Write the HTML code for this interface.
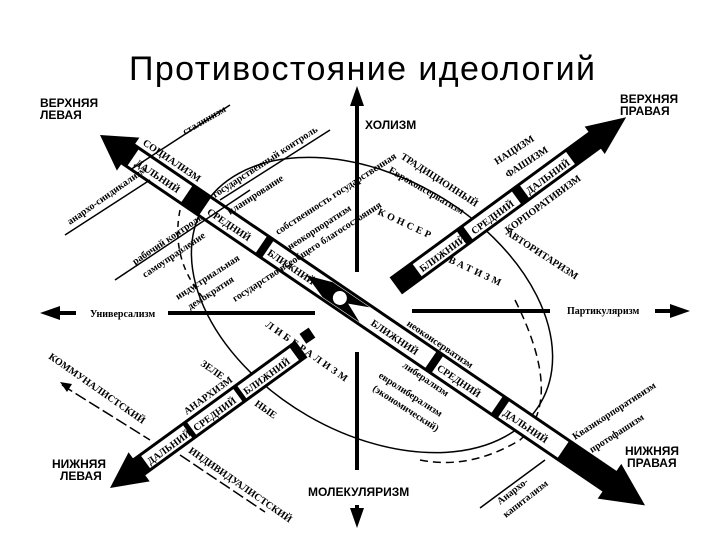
<!DOCTYPE html>
<html><head><meta charset="utf-8"><style>
html,body{margin:0;padding:0;background:#fff;}
svg{display:block;font-family:"Liberation Sans",sans-serif;}
.t{font-family:"Liberation Serif",serif;font-weight:bold;font-size:10px;fill:#000}
.b{font-family:"Liberation Sans",sans-serif;font-size:12px;fill:#000}
</style></head><body>
<svg width="720" height="540" viewBox="0 0 720 540" xmlns="http://www.w3.org/2000/svg">
<rect width="720" height="540" fill="#fff"/>
<text x="362" y="80" text-anchor="middle" font-size="34" textLength="466" font-family="Liberation Sans, sans-serif">Противостояние идеологий</text>

<!-- axes -->
<line x1="357" y1="100" x2="357" y2="272" stroke="#000" stroke-width="4"/>
<polygon points="357,86 350,106 364,106" fill="#000"/>
<line x1="357" y1="352" x2="357" y2="470" stroke="#000" stroke-width="4"/>
<line x1="357" y1="505" x2="357" y2="515" stroke="#000" stroke-width="4"/>
<polygon points="357,528 350,508 364,508" fill="#000"/>
<text x="365" y="129" class="b" font-weight="bold" font-size="10">ХОЛИЗМ</text>
<text x="308" y="496" class="b" font-weight="bold" font-size="10">МОЛЕКУЛЯРИЗМ</text>
<line x1="168" y1="313" x2="315" y2="313" stroke="#000" stroke-width="4"/>
<line x1="412" y1="311" x2="550" y2="311" stroke="#000" stroke-width="4"/>
<line x1="58" y1="313" x2="76" y2="313" stroke="#000" stroke-width="4"/>
<polygon points="40,313 60,306 60,320" fill="#000"/>
<line x1="655" y1="311" x2="672" y2="311" stroke="#000" stroke-width="4"/>
<polygon points="690,311 670,304 670,318" fill="#000"/>
<text x="90" y="317" class="t">Универсализм</text>
<text x="567" y="314" class="t">Партикуляризм</text>

<!-- corner labels -->
<text x="40" y="107" class="b" font-size="10" font-weight="bold">ВЕРХНЯЯ</text>
<text x="40" y="119" class="b" font-size="10" font-weight="bold">ЛЕВАЯ</text>
<text x="620" y="103" class="b" font-size="10" font-weight="bold">ВЕРХНЯЯ</text>
<text x="620" y="115" class="b" font-size="10" font-weight="bold">ПРАВАЯ</text>
<text x="52" y="468" class="b" font-size="10" font-weight="bold">НИЖНЯЯ</text>
<text x="60" y="480" class="b" font-size="10" font-weight="bold">ЛЕВАЯ</text>
<text x="625" y="455" class="b" font-size="10" font-weight="bold">НИЖНЯЯ</text>
<text x="627" y="467" class="b" font-size="10" font-weight="bold">ПРАВАЯ</text>

<!-- ellipse -->
<ellipse cx="372" cy="305" rx="195" ry="128" transform="rotate(30 372 305)" fill="none" stroke="#000" stroke-width="1.5"/>
<path d="M515 300 Q565 400 520 440 Q470 470 420 460" fill="none" stroke="#000" stroke-width="1.5" stroke-dasharray="8,5"/>
<path d="M180 210 Q170 260 205 300" fill="none" stroke="#000" stroke-width="1.5" stroke-dasharray="6,5"/>

<!-- main TL-BR bar -->
<g transform="translate(100,135) rotate(34.2)">
<rect x="30" y="-11" width="590" height="22" fill="#fff" stroke="#000" stroke-width="3"/>
<polygon points="0,0 34,-20 34,20" fill="#000"/>
<rect x="30" y="-11" width="10" height="22" fill="#000"/>
<rect x="105" y="-11" width="22" height="22" fill="#000"/>
<rect x="195" y="-11" width="8" height="22" fill="#000"/>
<rect x="400" y="-11" width="8" height="22" fill="#000"/>
<rect x="480" y="-11" width="8" height="22" fill="#000"/>
<rect x="560" y="-11" width="60" height="22" fill="#000"/>
<polygon points="659,0 616,-21 616,21" fill="#000"/>
<text x="45" y="5" class="t" font-size="12" font-weight="normal">ДАЛЬНИЙ</text>
<text x="132" y="5" class="t" font-size="12" font-weight="normal">СРЕДНИЙ</text>
<text x="205" y="5" class="t" font-size="11" font-weight="normal">БЛИЖНИЙ</text>
<text x="330" y="5" class="t" font-size="12" font-weight="normal">БЛИЖНИЙ</text>
<text x="410" y="5" class="t" font-size="12" font-weight="normal">СРЕДНИЙ</text>
<text x="490" y="5" class="t" font-size="12" font-weight="normal">ДАЛЬНИЙ</text>
<path d="M250 0 L275 -9 L320 -9 L300 0 L320 9 L275 9 Z" fill="#000"/>
<circle cx="290" cy="0" r="7" fill="#fff"/>
<text x="40" y="-16" class="t" font-size="12" font-weight="normal">СОЦИАЛИЗМ</text>
<text x="360" y="-15" class="t">неоконсерватизм</text>
<text x="380" y="22" class="t">либерализм</text>
</g>

<!-- upper-right bar -->
<g transform="translate(397,285) rotate(-36.2)">
<rect x="0" y="-9" width="250" height="18" fill="#fff" stroke="#000" stroke-width="3"/>
<rect x="0" y="-9" width="25" height="18" fill="#000"/>
<rect x="80" y="-9" width="8" height="18" fill="#000"/>
<rect x="148" y="-9" width="10" height="18" fill="#000"/>
<rect x="215" y="-9" width="35" height="18" fill="#000"/>
<polygon points="284,0 245,-17 245,17" fill="#000"/>
<text x="28" y="5" class="t" font-size="12" font-weight="normal">БЛИЖНИЙ</text>
<text x="92" y="5" class="t" font-size="12" font-weight="normal">СРЕДНИЙ</text>
<text x="160" y="5" class="t" font-size="12" font-weight="normal">ДАЛЬНИЙ</text>
<text x="120" y="24" class="t" font-size="11">КОРПОРАТИВИЗМ</text>
</g>
<text class="t" font-size="11" transform="translate(400,158) rotate(33)">ТРАДИЦИОННЫЙ</text>
<text class="t" font-size="9" transform="translate(388,172) rotate(30)">Евроконсерватизм</text>
<text class="t" font-size="12" font-weight="normal" letter-spacing="3" transform="translate(377,214) rotate(25)">КОНСЕР</text>
<text class="t" font-size="12" font-weight="normal" letter-spacing="3" transform="translate(448,262) rotate(25)">ВАТИЗМ</text>
<text class="t" font-size="11" transform="translate(505,234) rotate(33)">АВТОРИТАРИЗМ</text>
<text class="t" font-size="11" transform="translate(497,165) rotate(-33)">НАЦИЗМ</text>
<text class="t" font-size="11" transform="translate(508,178) rotate(-33)">ФАШИЗМ</text>

<!-- lower-left bar -->
<g transform="translate(110,488) rotate(-36)">
<rect x="30" y="-9" width="205" height="18" fill="#fff" stroke="#000" stroke-width="3"/>
<rect x="30" y="-9" width="14" height="18" fill="#000"/>
<rect x="96" y="-9" width="5" height="18" fill="#000"/>
<rect x="158" y="-9" width="5" height="18" fill="#000"/>
<rect x="228" y="-9" width="7" height="18" fill="#000"/>
<polygon points="0,0 36,-18 36,18" fill="#000"/>
<text x="46" y="5" class="t" font-size="12" font-weight="normal">ДАЛЬНИЙ</text>
<text x="103" y="5" class="t" font-size="12" font-weight="normal">СРЕДНИЙ</text>
<text x="165" y="5" class="t" font-size="12" font-weight="normal">БЛИЖНИЙ</text>
<text x="105" y="-14" class="t" font-size="11" font-weight="normal">АНАРХИЗМ</text>
</g>
<rect x="302" y="330" width="11" height="12" fill="#000" transform="rotate(-34 307 336)"/>
<text class="t" font-size="12" font-weight="normal" letter-spacing="3" transform="translate(265,326) rotate(35)">ЛИБЕРАЛИЗМ</text>
<text class="t" font-size="10" transform="translate(200,365) rotate(35)">ЗЕЛЕ</text>
<text class="t" font-size="10" transform="translate(254,405) rotate(35)">НЫЕ</text>
<text class="t" font-size="11" font-weight="normal" transform="translate(48,358) rotate(35)">КОММУНАЛИСТСКИЙ</text>
<line x1="62" y1="385" x2="150" y2="440" stroke="#000" stroke-width="1.5" stroke-dasharray="12,4"/>
<polygon points="60,382 72,384 67,392" fill="#000"/>
<text class="t" font-size="11" font-weight="normal" transform="translate(188,452) rotate(35)">ИНДИВИДУАЛИСТСКИЙ</text>
<line x1="180" y1="455" x2="265" y2="512" stroke="#000" stroke-width="1.5" stroke-dasharray="12,4"/>

<!-- side diagonal labels -->
<text class="t" transform="translate(185,135) rotate(-30)">сталинизм</text>
<line x1="130" y1="170" x2="230" y2="105" stroke="#000" stroke-width="1.5"/>
<text class="t" transform="translate(70,225) rotate(-35)">анархо-синдикализм</text>
<line x1="65" y1="235" x2="150" y2="180" stroke="#000" stroke-width="1.5"/>
<text class="t" transform="translate(215,198) rotate(-33)">государственный контроль</text>
<text class="t" transform="translate(230,215) rotate(-33)">планирование</text>
<line x1="220" y1="200" x2="330" y2="130" stroke="#000" stroke-width="1.5"/>
<text class="t" transform="translate(135,265) rotate(-34)">рабочий контроль</text>
<text class="t" transform="translate(145,278) rotate(-34)">самоуправление</text>
<line x1="115" y1="280" x2="250" y2="190" stroke="#000" stroke-width="1.5"/>
<text class="t" transform="translate(178,300) rotate(-33)">индустриальная</text>
<text class="t" transform="translate(190,310) rotate(-33)">демократия</text>
<text class="t" transform="translate(235,302) rotate(-33)">государство всеобщего благосостояния</text>
<text class="t" transform="translate(278,235) rotate(-33)">собственность государственная</text>
<text class="t" transform="translate(290,250) rotate(-33)">неокорпоратизм</text>
<text class="t" transform="translate(378,377) rotate(33)">евролиберализм</text>
<text class="t" transform="translate(372,390) rotate(33)">(экономический)</text>
<text class="t" transform="translate(575,440) rotate(-33)">Квазикорпоративизм</text>
<text class="t" transform="translate(592,453) rotate(-33)">протофашизм</text>
<text class="t" transform="translate(500,505) rotate(-38)">Анархо-</text>
<text class="t" transform="translate(506,518) rotate(-38)">капитализм</text>
<line x1="480" y1="508" x2="545" y2="460" stroke="#000" stroke-width="1.5"/>
</svg>
</body></html>
